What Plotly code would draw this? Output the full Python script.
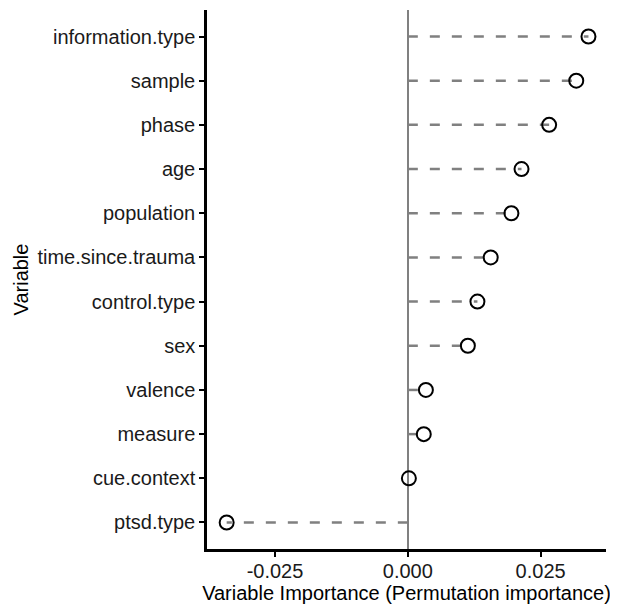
import plotly.graph_objects as go

variables = ["information.type", "sample", "phase", "age", "population",
             "time.since.trauma", "control.type", "sex", "valence", "measure",
             "cue.context", "ptsd.type"]
importance = [0.0340, 0.0317, 0.0266, 0.0214, 0.0195, 0.0156, 0.0131,
              0.0113, 0.0034, 0.0030, 0.0002, -0.0341]
x_ticks = [-0.025, 0.0, 0.025]
x_tick_labels = ["-0.025", "0.000", "0.025"]

seg_x, seg_y = [], []
for v, imp in zip(variables, importance):
    seg_x += [0, imp, None]
    seg_y += [v, v, None]

fig = go.Figure()
fig.add_trace(go.Scatter(
    x=seg_x, y=seg_y, mode="lines",
    line=dict(color="#808080", width=2.5, dash="10px,12px"),
    hoverinfo="skip", showlegend=False))
fig.add_trace(go.Scatter(
    x=importance, y=variables, mode="markers",
    marker=dict(symbol="circle-open", size=14, color="black",
                line=dict(color="black", width=2)),
    showlegend=False))

font = "Liberation Sans, Arial, sans-serif"
fig.update_layout(
    width=610, height=598,
    margin=dict(l=199, r=12, t=2, b=57),
    plot_bgcolor="white", paper_bgcolor="white",
    font=dict(family=font, size=20, color="black"),
    xaxis=dict(
        range=[-0.0378, 0.0373],
        tickvals=x_ticks, ticktext=x_tick_labels,
        showline=True, linecolor="black", linewidth=2.5,
        ticks="outside", ticklen=5, tickwidth=1.5, tickcolor="black",
        ticklabelstandoff=-3,
        showgrid=False,
        zeroline=True, zerolinecolor="#808080", zerolinewidth=2.2,
        title=dict(text="Variable Importance (Permutation importance)",
                   font=dict(size=20), standoff=0),
        tickfont=dict(size=20, color="#1a1a1a"),
        automargin=False,
    ),
    yaxis=dict(
        categoryorder="array", categoryarray=variables[::-1],
        range=[-0.6, len(variables) - 0.4],
        showline=True, linecolor="black", linewidth=2.5,
        ticks="outside", ticklen=5, tickwidth=1.5, tickcolor="black",
        showgrid=False, zeroline=False,
        title=dict(text="Variable", font=dict(size=20), standoff=4),
        tickfont=dict(size=20, color="#1a1a1a"),
        automargin=False,
    ),
)
fig.write_html("out.html")
